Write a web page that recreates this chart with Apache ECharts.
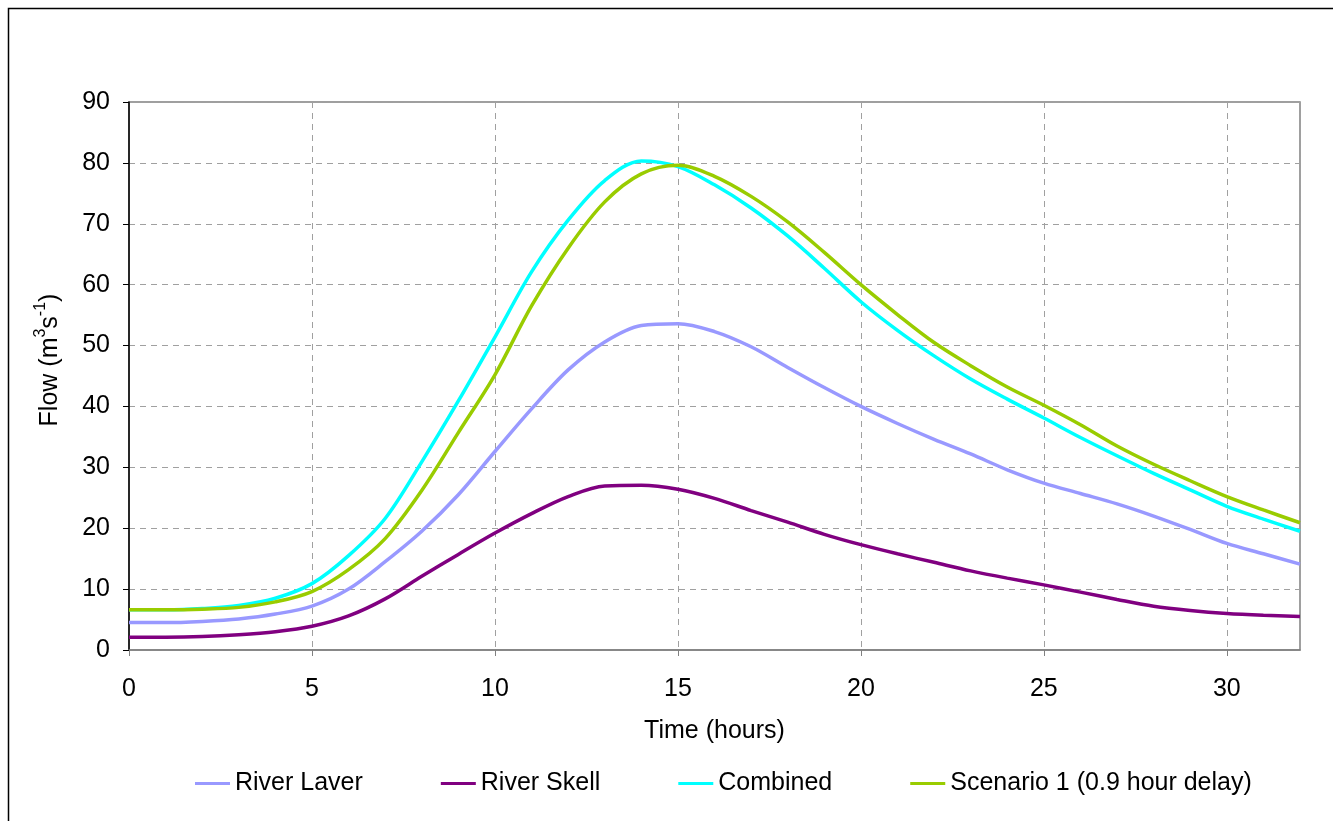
<!DOCTYPE html>
<html>
<head>
<meta charset="utf-8">
<script src="https://cdn.jsdelivr.net/npm/echarts@6/dist/echarts.min.js"></script>
<style>
html,body{margin:0;padding:0;background:#fff;}
#chart{width:1333px;height:821px;}
</style>
</head>
<body>
<div id="chart"></div>
<script>
var hours = [0,1,2,3,4,5,6,7,8,9,10,11,12,13,14,15,16,17,18,19,20,21,22,23,24,25,26,27,28,29,30,31,32];
// River Laver
var laverFlow    = [4.5,4.5,4.7,5.1,5.9,7.2,10.0,14.5,19.5,25.5,32.6,39.6,46.0,50.6,53.3,53.6,52.3,49.8,46.4,43.1,40.0,37.2,34.6,32.2,29.6,27.4,25.7,24.0,22.0,19.8,17.5,15.8,14.1];
// River Skell
var skellFlow    = [2.1,2.1,2.2,2.5,3.0,3.9,5.6,8.4,12.1,15.7,19.2,22.4,25.2,26.95,27.05,26.4,24.9,22.9,21.0,19.0,17.3,15.8,14.4,13.0,11.8,10.7,9.5,8.3,7.2,6.5,6.0,5.7,5.5];
// Combined
var combinedFlow = [6.6,6.6,6.8,7.3,8.5,10.9,15.5,21.6,30.9,40.9,51.4,62.1,70.6,77.1,80.3,79.4,76.4,72.6,68.0,62.7,57.2,52.5,48.3,44.5,41.2,38.1,34.9,31.9,29.0,26.3,23.6,21.5,19.5];
// Scenario 1 (0.9 hour delay)
var scenarioFlow = [6.6,6.6,6.7,7.0,7.9,9.6,13.2,18.3,26.2,35.7,45.2,56.5,66.0,73.6,78.2,79.6,77.8,74.5,70.3,65.3,60.0,55.1,50.5,46.7,43.2,40.2,37.0,33.5,30.5,27.8,25.2,23.0,20.9];

var seriesNames = ['River Laver','River Skell','Combined','Scenario 1 (0.9 hour delay)'];
var seriesColors = ['#9999ff','#800080','#00ffff','#99cc00'];
var xTicks = {min:0, max:32, interval:5};
var yTicks = {min:0, max:90, interval:10};

function pairs(vals){ return hours.map(function(h,i){ return [h, vals[i]]; }); }
var allData = [pairs(laverFlow), pairs(skellFlow), pairs(combinedFlow), pairs(scenarioFlow)];

var FONT = '"Liberation Sans", Arial, sans-serif';
var FS = 25;
var chart = echarts.init(document.getElementById('chart'), null, {renderer:'canvas'});
chart.setOption({
  animation:false,
  backgroundColor:'#fff',
  textStyle:{fontFamily:FONT, color:'#000'},
  graphic:[{
    type:'rect', shape:{x:8.5,y:8.5,width:1400,height:900},
    style:{fill:'none',stroke:'#000',lineWidth:1.5}, silent:true, z:-1
  }],
  grid:{left:129, top:102, right:33, bottom:171, show:true, borderColor:'#808080', borderWidth:1.5, backgroundColor:'transparent'},
  legend:{
    left:190, top:766,
    itemWidth:35, itemHeight:3, itemGap:78, icon:'rect',
    textStyle:{fontSize:FS, fontFamily:FONT, color:'#000'},
    data:seriesNames
  },
  xAxis:{
    type:'value', min:xTicks.min, max:xTicks.max, interval:xTicks.interval,
    name:'Time (hours)', nameLocation:'middle', nameGap:69,
    nameTextStyle:{fontSize:FS, fontFamily:FONT, color:'#000'},
    axisLine:{show:true, onZero:false, lineStyle:{color:'#808080', width:1.5}},
    axisTick:{show:true, length:6, inside:false, lineStyle:{color:'#808080'}},
    axisLabel:{fontSize:FS, color:'#000', margin:27, showMaxLabel:false, fontFamily:FONT},
    splitLine:{show:true, lineStyle:{color:'#a0a0a0', type:[6,5], width:1}}
  },
  yAxis:{
    type:'value', min:yTicks.min, max:yTicks.max, interval:yTicks.interval,
    name:'{a|Flow (m}{s|3}{a|s}{s|-1}{a|)}', nameLocation:'middle', nameGap:66, nameRotate:90,
    nameTextStyle:{
      fontFamily:FONT, color:'#000', padding:[0,0,0,32],
      rich:{
        a:{fontSize:FS, fontFamily:FONT, color:'#000', lineHeight:30, verticalAlign:'bottom'},
        s:{fontSize:16, fontFamily:FONT, color:'#000', lineHeight:30, verticalAlign:'top', padding:[0,0,12,0]}
      }
    },
    axisLine:{show:true, lineStyle:{color:'#000', width:1.5}},
    axisTick:{show:true, length:6, lineStyle:{color:'#000'}},
    axisLabel:{fontSize:FS, color:'#000', margin:19, fontFamily:FONT},
    splitLine:{show:true, lineStyle:{color:'#a0a0a0', type:[6,5], width:1}}
  },
  series: seriesNames.map(function(n,i){
    return {
      name:n, type:'line', data:allData[i], smooth:0.33,
      showSymbol:false, symbol:'none',
      lineStyle:{color:seriesColors[i], width:3.5},
      itemStyle:{color:seriesColors[i]},
      z: 2+i
    };
  })
});
</script>
</body>
</html>
